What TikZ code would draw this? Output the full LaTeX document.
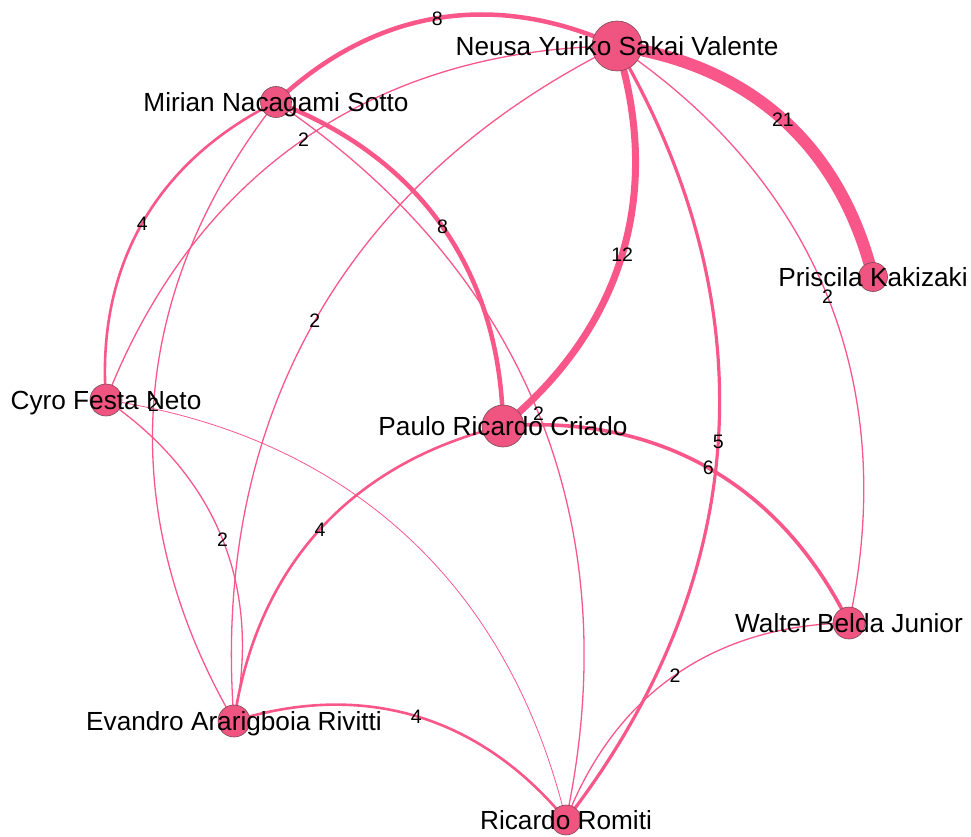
\documentclass[tikz,border=0pt]{standalone}
\usepackage{fontspec}
\setmainfont{Liberation Sans}
\definecolor{edgepink}{HTML}{F9578A}
\definecolor{nodepink}{HTML}{F05582}
\definecolor{rimgray}{HTML}{7A4A55}
\pgfdeclarelayer{edges}
\pgfsetlayers{edges,main}
\begin{document}
\begin{tikzpicture}[x=1pt,y=-1pt,
  person/.style={circle, fill=nodepink, draw=rimgray, line width=0.6pt,
    inner sep=0pt, minimum size=#1},
  pname/.style={font=\fontsize{26.2}{28}\selectfont, text=black, inner sep=0pt,
    text height=18.8pt, text depth=0pt},
  link/.style={draw=edgepink, line width=#1, bend left=34},
  wt/.style={font=\fontsize{19.5}{21}\selectfont, text=black, inner sep=0pt,
    text height=14pt, text depth=0pt}
]
\useasboundingbox (0,0) rectangle (971,837);

% people
\node[person=50pt, label={[pname]center:Neusa Yuriko Sakai Valente}] (N) at (617,46) {};
\node[person=31pt, label={[pname]center:Mirian Nacagami Sotto}] (M) at (276,102) {};
\node[person=29pt, label={[pname]center:Priscila Kakizaki}] (P) at (873,277) {};
\node[person=32pt, label={[pname]center:Cyro Festa Neto}] (C) at (106,400) {};
\node[person=42pt, label={[pname]center:Paulo Ricardo Criado}] (PR) at (503,426) {};
\node[person=32pt, label={[pname]center:Walter Belda Junior}] (W) at (849,623) {};
\node[person=32pt, label={[pname]center:Evandro Ararigboia Rivitti}] (E) at (234,721) {};
\node[person=30pt, label={[pname]center:Ricardo Romiti}] (R) at (566,820) {};

% co-authorship links, weighted by count
\begin{pgfonlayer}{edges}
\draw[link=4.5pt] (M.center) to node[wt]{8} (N.center);
\draw[link=12pt]  (N.center) to node[wt]{21} (P.center);
\draw[link=7pt]   (N.center) to node[wt]{12} (PR.center);
\draw[link=4.5pt] (M.center) to node[wt]{8} (PR.center);
\draw[link=2.6pt] (C.center) to node[wt]{4} (M.center);
\draw[link=1.3pt] (C.center) to node[wt]{2} (N.center);
\draw[link=1.3pt] (E.center) to node[wt]{2} (N.center);
\draw[link=1.3pt] (N.center) to node[wt]{2} (W.center);
\draw[link=3.2pt] (N.center) to node[wt]{5} (R.center);
\draw[link=1.3pt] (E.center) to node[wt]{2} (M.center);
\draw[link=1.3pt] (M.center) to node[wt]{2} (R.center);
\draw[link=1.3pt] (C.center) to node[wt]{2} (E.center);
\draw[link=0.8pt] (C.center) to (R.center);
\draw[link=3.6pt] (PR.center) to node[wt]{6} (W.center);
\draw[link=2.6pt] (E.center) to node[wt]{4} (PR.center);
\draw[link=2.6pt] (E.center) to node[wt]{4} (R.center);
\draw[link=1.3pt] (R.center) to node[wt]{2} (W.center);
\end{pgfonlayer}
\end{tikzpicture}
\end{document}
